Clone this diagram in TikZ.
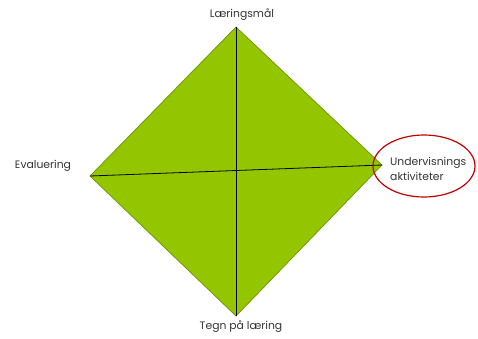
\documentclass[tikz,border=0pt]{standalone}
\usepackage{fontspec}
\setmainfont{Poppins}
\definecolor{dgreen}{HTML}{94C600}
\definecolor{dedge}{HTML}{6A9400}
\definecolor{dred}{HTML}{C00000}
\begin{document}
\begin{tikzpicture}[x=1pt,y=-1pt,
  lbl/.style={font=\fontsize{10.8}{14.5}\selectfont, text=black!80, inner sep=0pt},
  axis/.style={draw=black, line width=0.8pt}]
\useasboundingbox (0,0) rectangle (478,338);
\coordinate (T) at (236,27);
\coordinate (B) at (236,316);
\coordinate (L) at (90,176);
\coordinate (R) at (382,165);
\filldraw[fill=dgreen, draw=dedge, line width=0.7pt] (T) -- (R) -- (B) -- (L) -- cycle;
\draw[axis] (T) -- (B);
\draw[axis] (L) -- (R);
\node[lbl] (lt) at (242,15) {Læringsmål};
\node[lbl] (lb) at (241,327) {Tegn på læring};
\node[lbl] (ll) at (43,166) {Evaluering};
\node[lbl, align=left, anchor=west] (lr) at (390,169) {Undervisnings\\aktiviteter};
\draw[dred, line width=1.2pt] (424,166) ellipse [x radius=51, y radius=31];
\end{tikzpicture}
\end{document}
